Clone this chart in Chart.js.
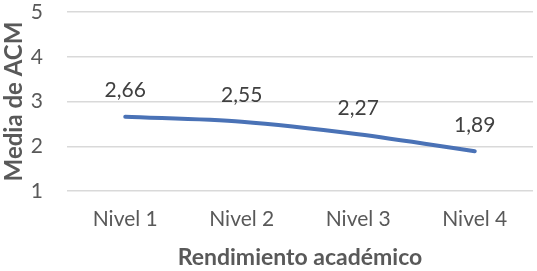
<!DOCTYPE html>
<html>
<head>
<meta charset="utf-8">
<script src="https://cdn.jsdelivr.net/npm/chart.js@4"></script>
<style>
  html, body { margin: 0; padding: 0; background: #fff; }
  #wrap { width: 537px; height: 271px; }
</style>
</head>
<body>
<div id="wrap"><canvas id="grafico"></canvas></div>
<script>
const niveles = ["Nivel 1", "Nivel 2", "Nivel 3", "Nivel 4"];
const medias = [2.66, 2.55, 2.27, 1.89];
const ticksY = [1, 2, 3, 4, 5];

// etiquetas de datos encima de cada punto (formato con coma decimal)
const etiquetas = {
  id: "etiquetas",
  afterDatasetsDraw(chart) {
    const ctx = chart.ctx;
    const meta = chart.getDatasetMeta(0);
    ctx.save();
    ctx.font = "21px Lato";
    ctx.fillStyle = "#404040";
    ctx.textAlign = "center";
    ctx.textBaseline = "middle";
    meta.data.forEach((p, i) => {
      ctx.fillText(medias[i].toFixed(2).replace(".", ","), p.x, p.y - 26);
    });
    ctx.restore();
  }
};

new Chart(document.getElementById("grafico"), {
  type: "line",
  data: {
    labels: niveles,
    datasets: [{
      data: medias,
      borderColor: "#4A72B6",
      borderWidth: 4,
      tension: 0.3,
      pointRadius: 0,
      borderCapStyle: "round"
    }]
  },
  options: {
    responsive: true,
    maintainAspectRatio: false,
    animation: false,
    layout: { padding: { top: 0, right: 4, left: 0, bottom: 0 } },
    plugins: { legend: { display: false }, tooltip: { enabled: false } },
    scales: {
      x: {
        offset: true,
        grid: { display: false },
        border: { display: false },
        ticks: { color: "#595959", font: { family: "Lato", size: 21 }, padding: 8 },
        title: { display: true, text: "Rendimiento académico", color: "#595959",
                 font: { family: "Lato", size: 23, weight: "bold" }, padding: { top: 0, bottom: 0 } },
        afterFit(axis) { axis.height = 80; }
      },
      y: {
        min: 1,
        max: 5,
        afterBuildTicks(axis) { axis.ticks = ticksY.map(v => ({ value: v })); },
        grid: { color: "#d9d9d9", lineWidth: 1.5, drawTicks: false },
        border: { display: false },
        ticks: { color: "#595959", font: { family: "Lato", size: 21 }, padding: 24 },
        title: { display: true, text: "Media de ACM", color: "#595959",
                 font: { family: "Lato", size: 24, weight: "bold" }, padding: { top: 0, bottom: 0 } },
        afterFit(axis) {
          axis.width = 67;
          axis.paddingTop = 12;
          axis.paddingBottom = 12;
        }
      }
    }
  },
  plugins: [etiquetas]
});
</script>
</body>
</html>
